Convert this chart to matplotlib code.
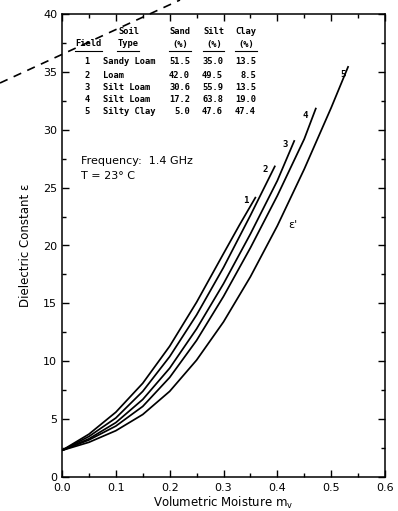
import matplotlib
matplotlib.use("Agg")
import matplotlib.pyplot as plt
from matplotlib.lines import Line2D
from matplotlib.ticker import MultipleLocator

# figure size in pixels (dpi 100)
W, H = 398, 511

# curves: volumetric moisture vs dielectric constant
mv_1 = [0.0, 0.05, 0.10, 0.15, 0.20, 0.25, 0.30, 0.33, 0.36]
eps_1 = [2.3, 3.7, 5.6, 8.1, 11.3, 15.1, 19.3, 21.8, 24.2]

mv_2 = [0.0, 0.05, 0.10, 0.15, 0.20, 0.25, 0.30, 0.35, 0.396]
eps_2 = [2.3, 3.5, 5.1, 7.4, 10.4, 14.0, 18.1, 22.6, 26.9]

mv_3 = [0.0, 0.05, 0.10, 0.15, 0.20, 0.25, 0.30, 0.35, 0.40, 0.432]
eps_3 = [2.3, 3.3, 4.7, 6.7, 9.4, 12.8, 16.7, 21.0, 25.6, 29.1]

mv_4 = [0.0, 0.05, 0.10, 0.15, 0.20, 0.25, 0.30, 0.35, 0.40, 0.45, 0.472]
eps_4 = [2.3, 3.2, 4.4, 6.1, 8.6, 11.8, 15.6, 19.8, 24.3, 29.2, 31.9]

mv_5 = [0.0, 0.05, 0.10, 0.15, 0.20, 0.25, 0.30, 0.35, 0.40, 0.45, 0.50, 0.532]
eps_5 = [2.3, 3.0, 4.0, 5.4, 7.4, 10.1, 13.4, 17.3, 21.7, 26.6, 31.9, 35.5]

curves = [(mv_1, eps_1), (mv_2, eps_2), (mv_3, eps_3), (mv_4, eps_4), (mv_5, eps_5)]

# curve number labels (data coords)
label_x = [0.342, 0.377, 0.414, 0.451, 0.522]
label_y = [23.9, 26.6, 28.7, 31.2, 34.8]

# soil table
fields = ["1", "2", "3", "4", "5"]
soil_types = ["Sandy Loam", "Loam", "Silt Loam", "Silt Loam", "Silty Clay"]
sand = [51.5, 42.0, 30.6, 17.2, 5.0]
silt = [35.0, 49.5, 55.9, 63.8, 47.6]
clay = [13.5, 8.5, 13.5, 19.0, 47.4]

x_ticks = [0.0, 0.1, 0.2, 0.3, 0.4, 0.5, 0.6]
y_ticks = [0, 5, 10, 15, 20, 25, 30, 35, 40]


def fpos(px, py):
    # pixel position -> figure fraction
    return px / W, 1 - py / H


fig = plt.figure(figsize=(W / 100, H / 100), dpi=100)
ax = fig.add_axes([62 / W, 34 / H, 323 / W, 463 / H])

for mv, eps in curves:
    ax.plot(mv, eps, color="black", lw=1.25, solid_capstyle="butt", solid_joinstyle="round")

for i, (lx, ly) in enumerate(zip(label_x, label_y)):
    ax.text(lx, ly, str(i + 1), fontsize=6.5, family="DejaVu Sans Mono",
            fontweight="bold", ha="center", va="center")
ax.text(0.429, 21.8, "ε'", fontsize=8, ha="center", va="center")

ax.text(0.036, 27.3, "Frequency:  1.4 GHz", fontsize=8, ha="left", va="center")
ax.text(0.036, 26.0, "T = 23° C", fontsize=8, ha="left", va="center")

ax.set_xlim(0, 0.6)
ax.set_ylim(0, 40)
ax.set_xticks(x_ticks)
ax.set_xticklabels([f"{v:.1f}" for v in x_ticks])
ax.set_yticks(y_ticks)
ax.xaxis.set_minor_locator(MultipleLocator(0.05))
ax.yaxis.set_minor_locator(MultipleLocator(2.5))
ax.tick_params(which="both", direction="in", top=True, right=True, labelsize=8, width=1)
ax.tick_params(which="major", length=5)
ax.tick_params(which="minor", length=3)
ax.tick_params(axis="x", pad=4)
for s in ax.spines.values():
    s.set_linewidth(1.1)

ax.set_xlabel("Volumetric Moisture m$_\\mathregular{v}$", fontsize=8.5, labelpad=2)
ax.set_ylabel("Dielectric Constant ε", fontsize=8.5, labelpad=8)

# table inside the plot
tfont = dict(family="DejaVu Sans Mono", fontsize=6.3, fontweight="bold", va="center")
fig.text(*fpos(88, 44), "Field", ha="center", **tfont)
fig.text(*fpos(118, 32), "Soil", ha="left", **tfont)
fig.text(*fpos(118, 44), "Type", ha="left", **tfont)
for cx, name in [(180, "Sand"), (214, "Silt"), (246, "Clay")]:
    fig.text(*fpos(cx, 32), name, ha="center", **tfont)
    fig.text(*fpos(cx, 44), "(%)", ha="center", **tfont)
for x0, x1 in [(75, 102), (117, 139), (169, 191), (203, 224), (235, 257)]:
    (a, b), (c, d) = fpos(x0, 51), fpos(x1, 51)
    fig.add_artist(Line2D([a, c], [b, d], color="black", lw=0.8))

row_y = [62, 75, 87, 99, 111]
for ry, f, st, sa, si, cl in zip(row_y, fields, soil_types, sand, silt, clay):
    fig.text(*fpos(87, ry), f, ha="center", **tfont)
    fig.text(*fpos(103, ry), st, ha="left", **tfont)
    fig.text(*fpos(190, ry), f"{sa:.1f}", ha="right", **tfont)
    fig.text(*fpos(223, ry), f"{si:.1f}", ha="right", **tfont)
    fig.text(*fpos(256, ry), f"{cl:.1f}", ha="right", **tfont)

# dashed pen mark across the top left of the scan
(a, b), (c, d) = fpos(0, 83), fpos(180, 0)
fig.add_artist(Line2D([a, c], [b, d], color="black", lw=1.2, linestyle=(0, (5, 4))))

fig.savefig("out.png", dpi=100)
